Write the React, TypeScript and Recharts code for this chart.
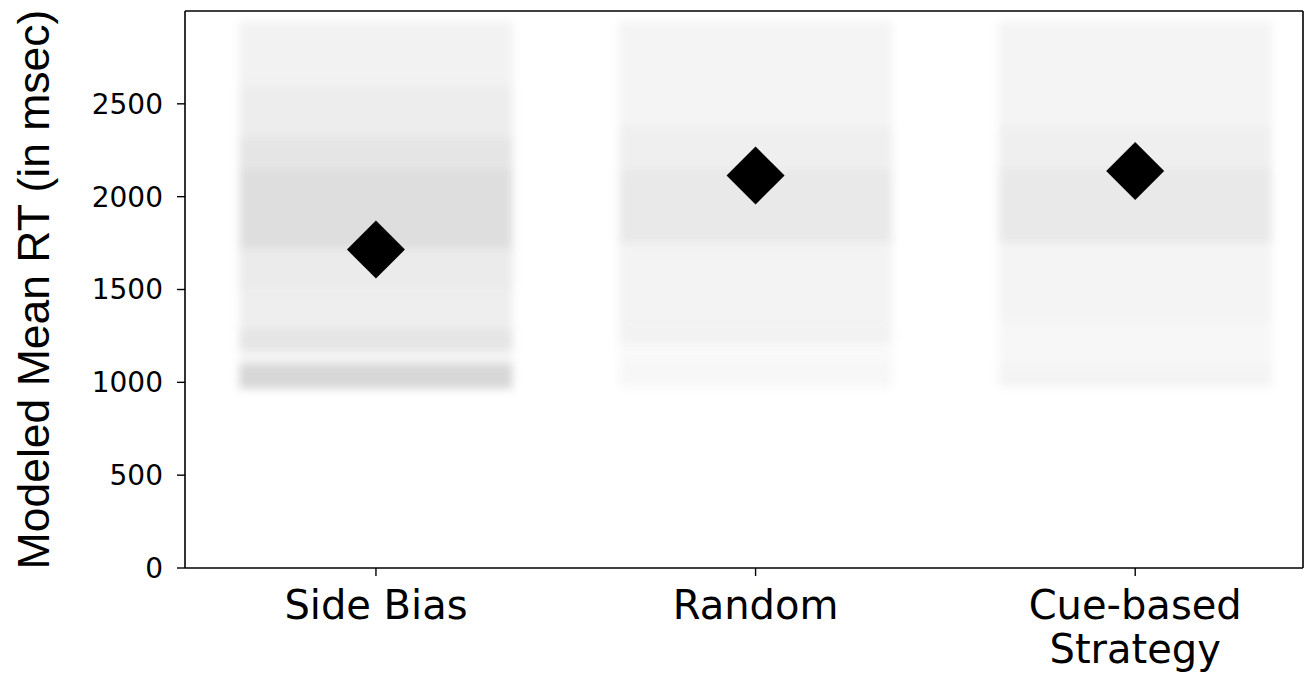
import { ScatterChart, Scatter, XAxis, YAxis, ReferenceArea, ReferenceLine } from 'recharts'

const categories = ['Side Bias', 'Random', 'Cue-based\nStrategy']
const meanRT = [1715, 2114, 2138]
const yTicks = [0, 500, 1000, 1500, 2000, 2500]

// jittered single-run means, summarised as density bands: [low, high, darkness]
const sideBiasBands: [number, number, number][] = [
  [965, 1100, 0.155],
  [1100, 1170, 0.04],
  [1170, 1285, 0.1],
  [1285, 1500, 0.065],
  [1500, 1720, 0.08],
  [1720, 2150, 0.13],
  [2150, 2320, 0.1],
  [2320, 2600, 0.07],
  [2600, 2945, 0.05],
]
const randomBands: [number, number, number][] = [
  [975, 1105, 0.03],
  [1105, 1210, 0.025],
  [1210, 1320, 0.05],
  [1320, 1750, 0.048],
  [1750, 2150, 0.085],
  [2150, 2380, 0.062],
  [2380, 2945, 0.042],
]
const cueBands: [number, number, number][] = [
  [975, 1105, 0.042],
  [1105, 1320, 0.032],
  [1320, 1750, 0.042],
  [1750, 2150, 0.088],
  [2150, 2380, 0.062],
  [2380, 2945, 0.042],
]

const allBands = [sideBiasBands, randomBands, cueBands]
const JITTER = 0.36

const means = categories.map((c, i) => ({ x: i, y: meanRT[i], name: c }))

const Diamond = (props: any) => {
  const { cx, cy } = props
  if (cx == null || cy == null) return null
  const r = 29
  return <polygon points={`${cx},${cy - r} ${cx + r},${cy} ${cx},${cy + r} ${cx - r},${cy}`} fill="#000" />
}

const Haze = (props: any) => {
  const { x, y, width, height, fillOpacity } = props
  return <rect x={x} y={y} width={width} height={height} fill="#000" fillOpacity={fillOpacity} filter="url(#haze)" />
}

const XTick = (props: any) => {
  const { x, y, payload } = props
  const lines = String(categories[payload.value] ?? '').split('\n')
  return (
    <text x={x} y={y} textAnchor="middle" fontSize={40} fontFamily="DejaVu Sans" fill="#000">
      {lines.map((l, i) => (
        <tspan key={i} x={x} dy={i === 0 ? '0.73em' : 44}>{l}</tspan>
      ))}
    </text>
  )
}

const YLabel = (props: any) => {
  const vb = props.viewBox || { x: 0, y: 11, width: 185, height: 557 }
  const cx = vb.x + 33
  const cy = vb.y + vb.height / 2
  return (
    <text x={cx} y={cy} transform={`rotate(-90, ${cx}, ${cy})`} textAnchor="middle" dominantBaseline="central"
      fontSize={44.5} fontFamily="Liberation Sans" fill="#000">
      Modeled Mean RT (in msec)
    </text>
  )
}

export default function App() {
  return (
    <div style={{ width: 1310, height: 674, background: '#fff' }}>
      <style>{`body{margin:0}`}</style>
      <svg width={0} height={0} style={{ position: 'absolute' }}>
        <defs>
          <filter id="haze" x="-50%" y="-100%" width="200%" height="300%">
            <feGaussianBlur stdDeviation="4" />
          </filter>
        </defs>
      </svg>
      <ScatterChart width={1310} height={674} margin={{ top: 11, right: 7, bottom: 0, left: 0 }}>
        <XAxis type="number" dataKey="x" domain={[-0.503, 2.442]} ticks={[0, 1, 2]} allowDataOverflow
          height={106} tickSize={8} tickMargin={14} tick={<XTick />}
          axisLine={{ stroke: '#000', strokeWidth: 1.6 }} tickLine={{ stroke: '#000', strokeWidth: 1.4 }} />
        <YAxis type="number" dataKey="y" domain={[0, 3000]} ticks={yTicks} allowDataOverflow
          width={185} tickSize={8} tickMargin={14}
          tick={{ fontSize: 28, fontFamily: 'DejaVu Sans', fill: '#000' }}
          axisLine={{ stroke: '#000', strokeWidth: 1.6 }} tickLine={{ stroke: '#000', strokeWidth: 1.4 }}
          label={<YLabel />} />
        {allBands.map((bands, ci) =>
          bands.map(([lo, hi, d], bi) => (
            <ReferenceArea key={`${ci}-${bi}`} x1={ci - JITTER} x2={ci + JITTER} y1={lo} y2={hi}
              fillOpacity={d} stroke="none" shape={<Haze />} />
          ))
        )}
        <ReferenceLine y={3000} stroke="#000" strokeWidth={1.6} />
        <ReferenceLine x={2.442} stroke="#000" strokeWidth={1.6} />
        <Scatter data={means} isAnimationActive={false} shape={<Diamond />} />
      </ScatterChart>
    </div>
  )
}
